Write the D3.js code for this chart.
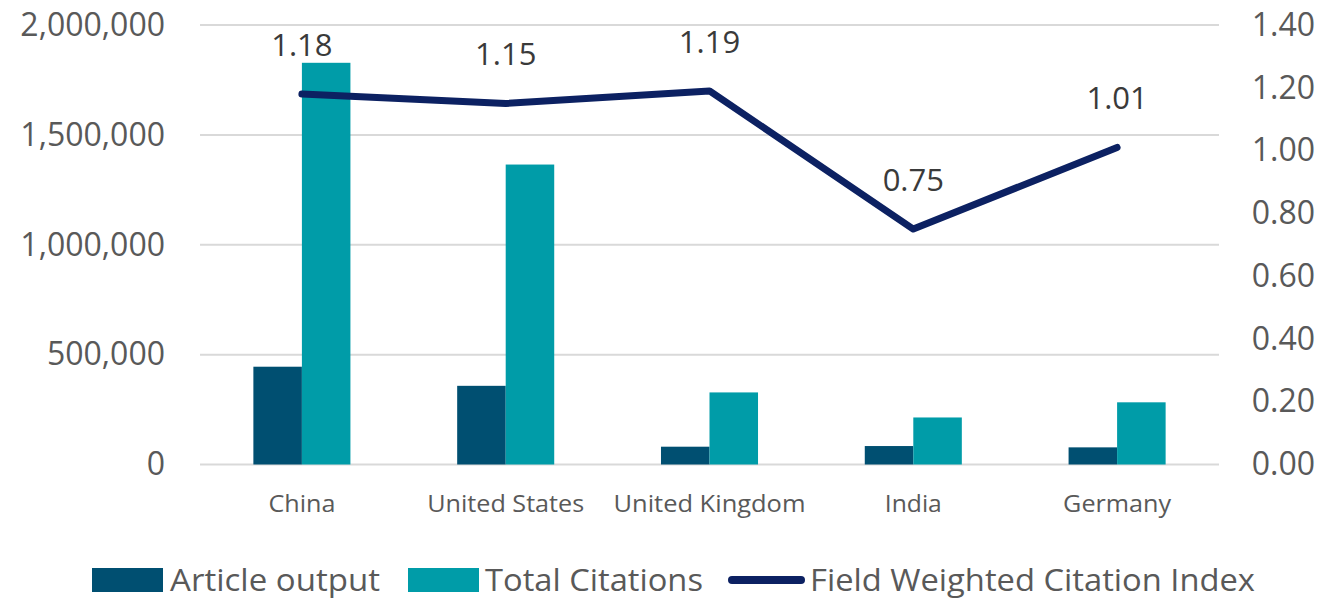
<!DOCTYPE html>
<html>
<head>
<meta charset="utf-8">
<script src="https://cdn.jsdelivr.net/npm/d3@7"></script>
<style>
  html, body { margin: 0; padding: 0; background: #fff; }
  svg text { font-family: "Open Sans", sans-serif; }
</style>
</head>
<body>
<div class="chart"></div>
<script>
// values
var countries = ["China", "United States", "United Kingdom", "India", "Germany"];
var articleOutput = [445000, 358000, 81000, 84000, 78000];
var totalCitations = [1828000, 1365000, 328000, 214000, 283000];
var fwci = [1.18, 1.15, 1.19, 0.75, 1.01];
var leftTicks = [0, 500000, 1000000, 1500000, 2000000];
var rightTicks = [0, 0.2, 0.4, 0.6, 0.8, 1.0, 1.2, 1.4];

var width = 1332, height = 599,
    plot = {left: 200, right: 1219, top: 25, bottom: 464.5};

var colors = {article: "#004f71", citations: "#009ca8", line: "#0c2162",
              grid: "#d9d9d9", axis: "#595959", label: "#3a3a3a"};

var svg = d3.select(".chart").append("svg")
    .attr("width", width)
    .attr("height", height);

var x0 = d3.scaleBand()
    .domain(countries)
    .range([plot.left, plot.right]);

var x1 = d3.scaleBand()
    .domain(["article", "citations"])
    .range([0, x0.bandwidth()])
    .paddingOuter(1.1);

var yLeft = d3.scaleLinear().domain([0, 2000000]).range([plot.bottom, plot.top]);
var yRight = d3.scaleLinear().domain([0, 1.4]).range([plot.bottom, plot.top]);

// gridlines from the left axis
svg.append("g")
  .selectAll("line")
  .data(leftTicks)
  .enter().append("line")
    .attr("x1", plot.left)
    .attr("x2", plot.right)
    .attr("y1", d => yLeft(d))
    .attr("y2", d => yLeft(d))
    .attr("stroke", colors.grid)
    .attr("stroke-width", 2);

// left axis
var leftAxis = svg.append("g")
    .attr("transform", "translate(165,0)")
    .call(d3.axisLeft(yLeft).tickValues(leftTicks).tickFormat(d3.format(",")).tickSize(0).tickPadding(0));
leftAxis.select(".domain").remove();
leftAxis.selectAll("text")
    .attr("fill", colors.axis)
    .attr("font-size", 32)
    .attr("font-family", "Open Sans");

// right axis
var rightAxis = svg.append("g")
    .attr("transform", "translate(1315,0)")
    .call(d3.axisLeft(yRight).tickValues(rightTicks).tickFormat(d3.format(".2f")).tickSize(0).tickPadding(0));
rightAxis.select(".domain").remove();
rightAxis.selectAll("text")
    .attr("fill", colors.axis)
    .attr("font-size", 32)
    .attr("font-family", "Open Sans");

// bars
var groups = svg.append("g")
  .selectAll("g")
  .data(countries)
  .enter().append("g")
    .attr("transform", d => `translate(${x0(d)},0)`);

groups.append("rect")
    .attr("x", x1("article"))
    .attr("width", x1.bandwidth())
    .attr("y", (d, i) => yLeft(articleOutput[i]))
    .attr("height", (d, i) => yLeft(0) - yLeft(articleOutput[i]))
    .attr("fill", colors.article);

groups.append("rect")
    .attr("x", x1("citations"))
    .attr("width", x1.bandwidth())
    .attr("y", (d, i) => yLeft(totalCitations[i]))
    .attr("height", (d, i) => yLeft(0) - yLeft(totalCitations[i]))
    .attr("fill", colors.citations);

// category labels
var catLengths = [67, 157, 192, 57, 108];
svg.append("g")
  .selectAll("text")
  .data(countries)
  .enter().append("text")
    .attr("x", d => x0(d) + x0.bandwidth() / 2)
    .attr("y", 512)
    .attr("text-anchor", "middle")
    .attr("font-size", 23)
    .attr("fill", colors.axis)
    .attr("textLength", (d, i) => catLengths[i])
    .attr("lengthAdjust", "spacingAndGlyphs")
    .text(d => d);

// FWCI line
var line = d3.line()
    .x((d, i) => x0(countries[i]) + x0.bandwidth() / 2)
    .y(d => yRight(d));

svg.append("path")
    .datum(fwci)
    .attr("d", line)
    .attr("fill", "none")
    .attr("stroke", colors.line)
    .attr("stroke-width", 7)
    .attr("stroke-linejoin", "round")
    .attr("stroke-linecap", "round");

svg.append("g")
  .selectAll("text")
  .data(fwci)
  .enter().append("text")
    .attr("x", (d, i) => x0(countries[i]) + x0.bandwidth() / 2)
    .attr("y", d => yRight(d) - 38)
    .attr("text-anchor", "middle")
    .attr("font-size", 31)
    .attr("fill", colors.label)
    .text(d => d3.format(".2f")(d));

// legend
var legend = svg.append("g");
legend.append("rect").attr("x", 92).attr("y", 568).attr("width", 71).attr("height", 24).attr("fill", colors.article);
legend.append("rect").attr("x", 408).attr("y", 568).attr("width", 71).attr("height", 24).attr("fill", colors.citations);
legend.append("line")
    .attr("x1", 732).attr("x2", 801).attr("y1", 580).attr("y2", 580)
    .attr("stroke", colors.line).attr("stroke-width", 8).attr("stroke-linecap", "round");

var legendItems = [
  {text: "Article output", x: 170, len: 210},
  {text: "Total Citations", x: 485, len: 218},
  {text: "Field Weighted Citation Index", x: 810, len: 445}
];
legend.selectAll("text")
  .data(legendItems)
  .enter().append("text")
    .attr("x", d => d.x)
    .attr("y", 591)
    .attr("font-size", 31)
    .attr("fill", colors.axis)
    .attr("textLength", d => d.len)
    .attr("lengthAdjust", "spacingAndGlyphs")
    .text(d => d.text);
</script>
</body>
</html>
